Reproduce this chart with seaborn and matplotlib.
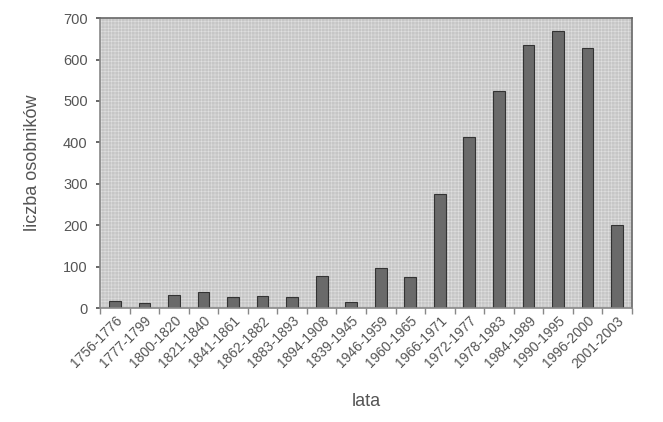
import numpy as np
import pandas as pd
import seaborn as sns
import matplotlib.pyplot as plt
from matplotlib.patches import Rectangle

# Data
periods = ['1756-1776', '1777-1799', '1800-1820', '1821-1840', '1841-1861',
           '1862-1882', '1883-1893', '1894-1908', '1839-1945', '1946-1959',
           '1960-1965', '1966-1971', '1972-1977', '1978-1983', '1984-1989',
           '1990-1995', '1996-2000', '2001-2003']
counts = [18, 12, 32, 38, 27, 28, 27, 78, 15, 97,
          75, 275, 413, 525, 635, 668, 628, 200]
y_ticks = [0, 100, 200, 300, 400, 500, 600, 700]

df = pd.DataFrame({'lata': periods, 'liczba': counts})

sns.set_theme(style='white')
plt.rcParams['font.family'] = ['Liberation Sans', 'DejaVu Sans']
text_color = '#555555'

fig = plt.figure(figsize=(6.63, 4.22), dpi=100)
ax = fig.add_axes([0.151, 0.270, 0.802, 0.687])

# grey textured plot background
ax.set_facecolor('#c6c6c6')
plt.rcParams['hatch.linewidth'] = 0.4
ax.add_patch(Rectangle((0, 0), 1, 1, transform=ax.transAxes, facecolor='none',
                       edgecolor='#e0e0e0', hatch='+++++', lw=0, zorder=0))

sns.barplot(data=df, x='lata', y='liczba', color='#6a6a6a', width=0.4,
            edgecolor='#333333', linewidth=0.8, saturation=1, ax=ax, zorder=2)

ax.set_ylim(0, 700)
ax.set_xlim(-0.5, len(periods) - 0.5)
ax.set_yticks(y_ticks)
ax.set_xticks(np.arange(len(periods) + 1) - 0.5, minor=True)
ax.tick_params(axis='y', colors=text_color, labelsize=10.5, length=3, left=True, pad=6)
ax.tick_params(axis='x', which='major', colors=text_color, labelsize=10, length=0, pad=4)
ax.tick_params(axis='x', which='minor', color='#888888', length=4, bottom=True)
plt.setp(ax.get_xticklabels(), rotation=45, ha='right', rotation_mode='anchor')

for side in ['top', 'right']:
    ax.spines[side].set_color('#666666')
    ax.spines[side].set_linewidth(1.2)
for side in ['left', 'bottom']:
    ax.spines[side].set_color('#888888')
    ax.spines[side].set_linewidth(1.2)

ax.set_xlabel('lata', color=text_color, fontsize=13, labelpad=16)
ax.set_ylabel('liczba osobników', color=text_color, fontsize=13, labelpad=16)

fig.savefig('out.png', dpi=100, facecolor='white')
